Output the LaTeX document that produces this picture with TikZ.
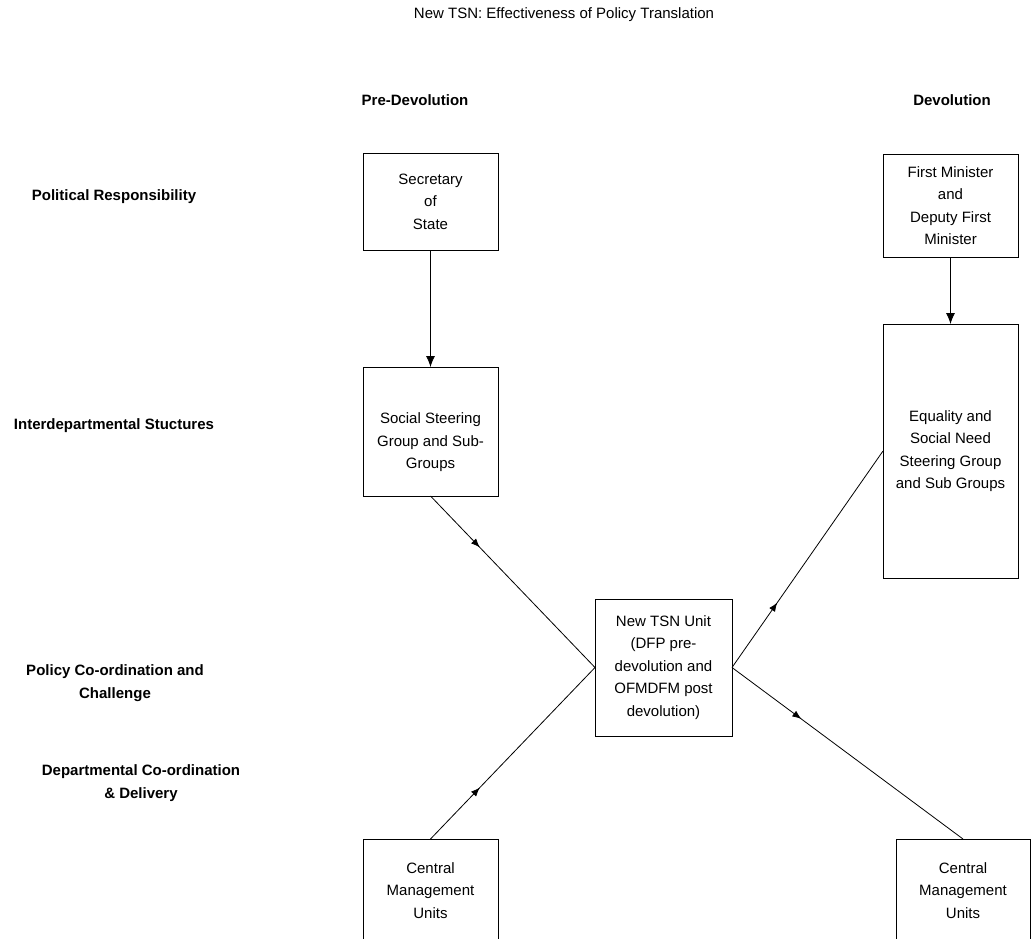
\documentclass[tikz,border=0pt]{standalone}
\usepackage{fontspec}
\setmainfont{Liberation Sans}
\usepackage{tikz}
\usetikzlibrary{arrows.meta, decorations.markings}
\tikzstyle{downarrow} = [line width=0.8pt, -{Latex[length=11pt,width=9pt]}]

\begin{document}
\begin{tikzpicture}[x=1pt, y=-1pt,
		box/.style={draw, line width=0.8pt, inner sep=0pt, outer sep=0pt, align=center,
			font=\fontsize{15}{22.5}\selectfont},
		rowlabel/.style={align=center, font=\fontsize{15}{23}\selectfont\bfseries},
		midarrow/.style={line width=0.8pt, postaction={decorate}, decoration={markings,
				mark=at position 0.3 with {\arrow{Latex[length=9pt,width=7pt]}}}}]
		
		\useasboundingbox (0,0) rectangle (1036,939);
		
		\node[font=\fontsize{15}{17}\selectfont] (title) at (564,15) {New TSN: Effectiveness of Policy Translation};
		
		\node[rowlabel] (pre) at (415,100) {Pre-Devolution};
		\node[rowlabel] (dev) at (952,100) {Devolution};
		
		\node[rowlabel] (political) at (114,197) {Political Responsibility};
		\node[rowlabel] (interdept) at (114,426) {Interdepartmental Stuctures};
		\node[rowlabel] (policy) at (115,683) {Policy Co-ordination and\\Challenge};
		\node[rowlabel] (delivery) at (141,783) {Departmental Co-ordination\\\& Delivery};
		
		\node[box, minimum width=135, minimum height=97] (sec) at (430.5,201.5) {Secretary\\of\\State};
		\node[box, minimum width=135, minimum height=129,
			label={[align=center, font=\fontsize{15}{22.5}\selectfont, yshift=-11pt]center:Social Steering\\Group and Sub-\\Groups}] (ssg) at (430.5,431.5) {};
		\node[box, minimum width=135, minimum height=103] (cmuL) at (430.5,890.5) {Central\\Management\\Units};
		
		\node[box, minimum width=135, minimum height=103] (fm) at (950.5,205.5) {First Minister\\and\\Deputy First\\Minister};
		\node[box, minimum width=135, minimum height=254] (esn) at (950.5,451) {Equality and\\Social Need\\Steering Group\\and Sub Groups};
		\node[box, minimum width=134, minimum height=103] (cmuR) at (963,890.5) {Central\\Management\\Units};
		
		\node[box, minimum width=137, minimum height=137] (tsn) at (663.5,667.5) {New TSN Unit\\(DFP pre-\\devolution and\\OFMDFM post\\devolution)};
		
		\draw[downarrow] (sec.south) -- (ssg.north);
		\draw[downarrow] (fm.south) -- (esn.north);
		
		\draw[midarrow] (ssg.south) -- (tsn.west);
		\draw[midarrow] (cmuL.north) -- (tsn.west);
		\draw[midarrow] (tsn.east) -- (esn.west);
		\draw[midarrow] (tsn.east) -- (cmuR.north);
		
	\end{tikzpicture}
\end{document}
